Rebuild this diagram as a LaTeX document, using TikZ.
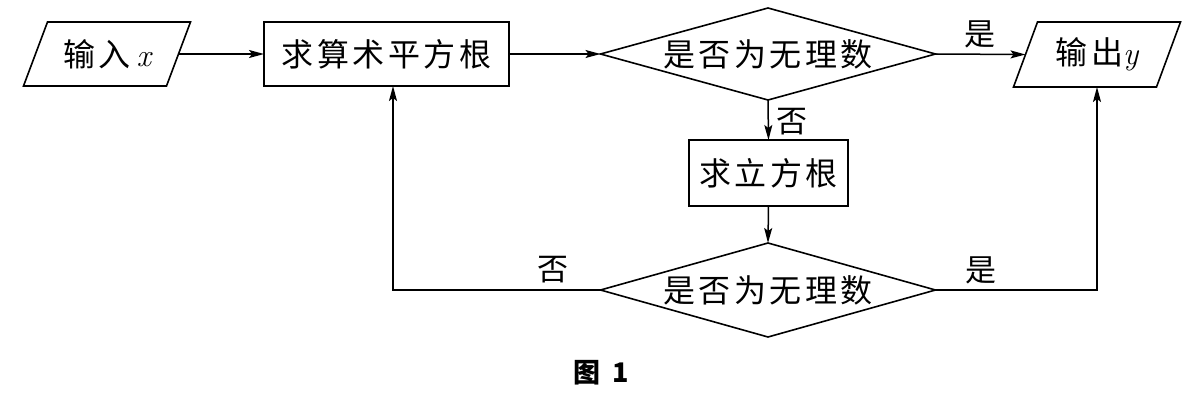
\documentclass[tikz,border=0pt]{standalone}
\usepackage{fontspec}
\usetikzlibrary{arrows.meta,calc}
\newfontfamily\cjk{Noto Sans CJK SC}[LetterSpace=11]
\newfontfamily\cjkplain{Noto Sans CJK SC}
\newcommand{\vx}[1]{{\rmfamily\itshape #1}}
\tikzset{
  base/.style={inner sep=0pt, outer sep=0pt, font=\cjk\fontsize{32pt}{36pt}\selectfont},
  procbox/.style={base, draw, line width=1.6pt},
  plainbox/.style={base},
  lbl/.style={inner sep=0pt, font=\cjkplain\fontsize{31pt}{34pt}\selectfont},
  conn/.style={line width=1.5pt, -{Stealth[length=15pt,width=8pt,inset=3pt]}},
  edge/.style={line width=1.6pt}
}
\begin{document}
\begin{tikzpicture}[x=1pt,y=-1pt]
\useasboundingbox (0,0) rectangle (1187,394);
% nodes
\node[plainbox, minimum width=143pt, minimum height=64pt] (in) at (107,54) {输入\hspace{6pt}\vx{x}};
\draw[edge] ([xshift=12pt]in.north west) -- ([xshift=12pt]in.north east) -- ([xshift=-12pt]in.south east) -- ([xshift=-12pt]in.south west) -- cycle;
\node[procbox, minimum width=245pt, minimum height=64pt] (b1) at (386.5,54) {求算术平方根};
\node[plainbox, minimum width=335pt, minimum height=92pt] (d1) at (768,54) {是否为无理数};
\draw[edge] (d1.west) -- (d1.north) -- (d1.east) -- (d1.south) -- cycle;
\node[plainbox, minimum width=143pt, minimum height=65pt] (out) at (1097,54.5) {输出\vx{y}};
\draw[edge] ([xshift=12pt]out.north west) -- ([xshift=12pt]out.north east) -- ([xshift=-12pt]out.south east) -- ([xshift=-12pt]out.south west) -- cycle;
\node[procbox, minimum width=159pt, minimum height=66pt] (b2) at (768.5,173) {求立方根};
\node[plainbox, minimum width=335pt, minimum height=94pt] (d2) at (768,290) {是否为无理数};
\draw[edge] (d2.west) -- (d2.north) -- (d2.east) -- (d2.south) -- cycle;
% connectors
\draw[conn] (in.east) -- (b1.west);
\draw[conn] (b1.east) -- (d1.west);
\draw[conn] (d1.east) -- (out.west);
\draw[conn] (d1.south) -- (b2.north);
\draw[conn] (b2.south) -- (d2.north);
\draw[conn] (d2.west) -| ([xshift=6.5pt]b1.south);
\draw[conn] (d2.east) -| (out.south);
% labels
\node[lbl] (l1) at (980,34) {是};
\node[lbl] (l2) at (792,122) {否};
\node[lbl] (l3) at (553,270) {否};
\node[lbl] (l4) at (981,270) {是};
\node[inner sep=0pt, font=\cjkplain\bfseries\fontsize{27pt}{30pt}\selectfont] (cap) at (601,373) {图\hspace{12pt}1};
\end{tikzpicture}
\end{document}
